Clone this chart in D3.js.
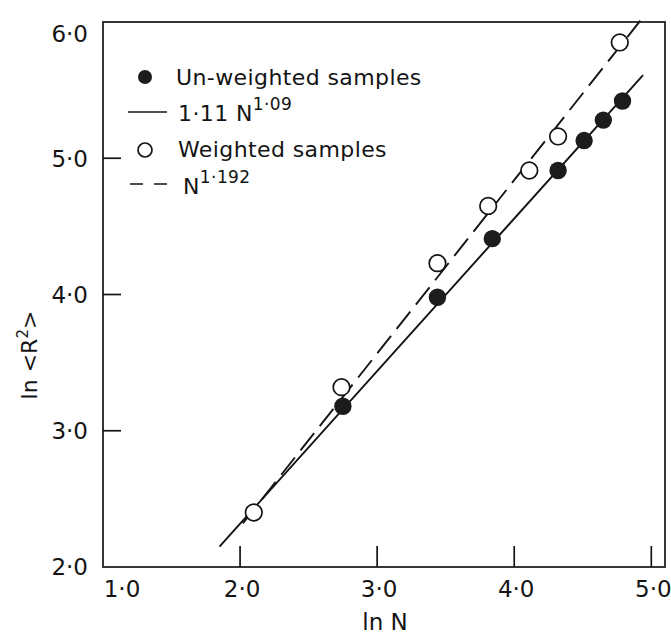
<!DOCTYPE html>
<html>
<head>
<meta charset="utf-8">
<script src="https://cdn.jsdelivr.net/npm/d3@7"></script>
<style>
  html, body { margin: 0; padding: 0; background: #fff; }
  svg { display: block; font-family: "DejaVu Sans", sans-serif; }
</style>
</head>
<body>
<svg id="chart" width="671" height="636"></svg>
<script>
/* ln<R^2> vs ln N — un-weighted and weighted samples with fitted lines. */

var xTicks = [1, 2, 3, 4, 5];
var yTicks = [2, 3, 4, 5, 6];
var tickLabel = function (v) { return v.toFixed(1).replace(".", "\u00b7"); };

// un-weighted samples (filled)
var unweighted = [
  [2.75, 3.18], [3.44, 3.98], [3.84, 4.41], [4.32, 4.91],
  [4.51, 5.13], [4.65, 5.28], [4.79, 5.42]
];
// weighted samples (open)
var weighted = [
  [2.10, 2.40], [2.74, 3.32], [3.44, 4.23], [3.81, 4.65],
  [4.11, 4.91], [4.32, 5.16], [4.77, 5.85]
];
// fitted lines, end points
var fitSolid = [[1.85, 2.15], [4.94, 5.61]];
var fitDashed = [[2.02, 2.32], [4.92, 6.01]];

var ink = "#141414";
var svg = d3.select("#chart");

var x = d3.scaleLinear().domain([1, 5.1]).range([103, 665]);
var y = d3.scaleLinear().domain([2, 6]).range([567, 22]);

// frame
svg.append("rect")
  .attr("x", x(1)).attr("y", y(6))
  .attr("width", x(5.1) - x(1)).attr("height", y(2) - y(6))
  .attr("fill", "none").attr("stroke", ink).attr("stroke-width", 1.7);

// inward ticks
svg.append("g").selectAll("line").data(xTicks.slice(1)).join("line")
  .attr("x1", function (d) { return x(d); }).attr("x2", function (d) { return x(d); })
  .attr("y1", y(2)).attr("y2", y(2) - 21)
  .attr("stroke", ink).attr("stroke-width", 1.7);
svg.append("g").selectAll("line").data(yTicks.slice(1, -1)).join("line")
  .attr("x1", x(1)).attr("x2", x(1) + 18)
  .attr("y1", function (d) { return y(d); }).attr("y2", function (d) { return y(d); })
  .attr("stroke", ink).attr("stroke-width", 1.7);

// tick labels
svg.append("g").selectAll("text").data(xTicks).join("text")
  .attr("x", function (d) { return x(d) + (d === 1 ? 19 : 2); })
  .attr("y", y(2) + 30)
  .attr("text-anchor", "middle")
  .attr("font-size", 23).attr("fill", ink)
  .text(tickLabel);
svg.append("g").selectAll("text").data(yTicks).join("text")
  .attr("x", x(1) - 15)
  .attr("y", function (d) { return y(d) + (d === 6 ? 12 : 0); })
  .attr("dy", "0.36em")
  .attr("text-anchor", "end")
  .attr("font-size", 23).attr("fill", ink)
  .text(tickLabel);

// axis titles
svg.append("text")
  .attr("x", 385).attr("y", 630)
  .attr("text-anchor", "middle").attr("font-size", 23).attr("fill", ink)
  .text("ln N");
var yt = svg.append("text")
  .attr("transform", "translate(37,355) rotate(-90)")
  .attr("text-anchor", "middle").attr("font-size", 22).attr("fill", ink);
yt.append("tspan").text("ln <R");
yt.append("tspan").attr("font-size", 15).attr("dy", -9).text("2");
yt.append("tspan").attr("dy", 9).text(">");

// fitted lines
var line = d3.line().x(function (d) { return x(d[0]); }).y(function (d) { return y(d[1]); });
svg.append("path").datum(fitSolid).attr("d", line)
  .attr("fill", "none").attr("stroke", ink).attr("stroke-width", 1.9);
svg.append("path").datum(fitDashed).attr("d", line)
  .attr("fill", "none").attr("stroke", ink).attr("stroke-width", 1.9)
  .attr("stroke-dasharray", "22,9");

// points
svg.append("g").selectAll("circle").data(weighted).join("circle")
  .attr("cx", function (d) { return x(d[0]); }).attr("cy", function (d) { return y(d[1]); })
  .attr("r", 8.3).attr("fill", "#fff").attr("stroke", ink).attr("stroke-width", 1.7);
svg.append("g").selectAll("circle").data(unweighted).join("circle")
  .attr("cx", function (d) { return x(d[0]); }).attr("cy", function (d) { return y(d[1]); })
  .attr("r", 8.7).attr("fill", "#1c1c1c");

// legend
var lg = svg.append("g").attr("fill", ink).attr("font-size", 22).attr("letter-spacing", 0.4);
lg.append("circle").attr("cx", 145).attr("cy", 77).attr("r", 7).attr("fill", "#1c1c1c");
lg.append("text").attr("x", 176).attr("y", 85).text("Un-weighted samples");

lg.append("line").attr("x1", 128).attr("x2", 167).attr("y1", 112).attr("y2", 112)
  .attr("stroke", ink).attr("stroke-width", 1.7);
var t2 = lg.append("text").attr("x", 178).attr("y", 121);
t2.append("tspan").text("1\u00b711 N");
t2.append("tspan").attr("font-size", 17).attr("dy", -11).text("1\u00b709");

lg.append("circle").attr("cx", 145).attr("cy", 150).attr("r", 7)
  .attr("fill", "#fff").attr("stroke", ink).attr("stroke-width", 1.7);
lg.append("text").attr("x", 178).attr("y", 157).text("Weighted samples");

lg.append("line").attr("x1", 130).attr("x2", 167).attr("y1", 184).attr("y2", 184)
  .attr("stroke", ink).attr("stroke-width", 1.7).attr("stroke-dasharray", "13,11");
var t4 = lg.append("text").attr("x", 183).attr("y", 194);
t4.append("tspan").text("N");
t4.append("tspan").attr("font-size", 17).attr("dy", -11).text("1\u00b7192");
</script>
</body>
</html>
